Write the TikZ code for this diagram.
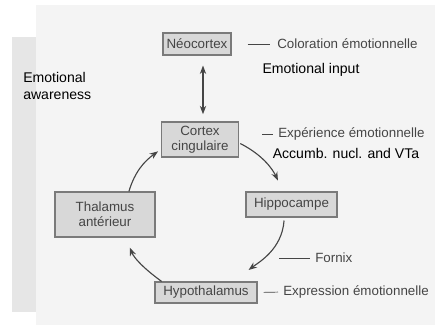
\documentclass[tikz,border=0pt]{standalone}
\usepackage{fontspec}
\setmainfont{Liberation Sans}
\usetikzlibrary{arrows.meta}

\definecolor{boxfill}{HTML}{D8D8D8}
\definecolor{boxline}{HTML}{7A7A7A}
\definecolor{scantext}{HTML}{454545}
\definecolor{page}{HTML}{F4F4F4}
\definecolor{panel}{HTML}{E6E6E6}

\tikzset{
	area/.style={draw=boxline,fill=boxfill,line width=0.8pt,inner sep=0pt,align=center,
		text=scantext,font=\fontsize{9.5}{11}\selectfont},
	french/.style={inner sep=0pt,anchor=west,text=scantext,font=\fontsize{9.5}{11}\selectfont},
	english/.style={inner sep=0pt,text=black,font=\fontsize{10}{12}\selectfont},
	tick/.style={draw=scantext,line width=0.5pt},
	link/.style={->,draw=scantext,line width=0.8pt}
}

\begin{document}
\begin{tikzpicture}[>={Stealth[length=6pt,width=4.5pt]}]
	\useasboundingbox (0,0) rectangle (10.875,8.125);
	% scanned page
	\fill[page] (0.9,0) rectangle (10.875,8);
	\fill[panel] (0.3,0.325) rectangle (0.9,7.2);

	% boxes
	\node[area,minimum width=1.7cm,minimum height=0.55cm] (neo) at (4.925,7.025) {Néocortex};
	\node[area,minimum width=1.925cm,minimum height=0.875cm] (cing) at (5.0,4.6375) {Cortex\\cingulaire};
	\node[area,minimum width=2.275cm,minimum height=0.625cm] (hippo) at (7.2875,3.0125) {Hippocampe};
	\node[area,minimum width=2.5cm,minimum height=1.125cm] (thal) at (2.625,2.7625) {Thalamus\\antérieur};
	\node[area,minimum width=2.55cm,minimum height=0.525cm] (hypo) at (5.15,0.8125) {Hypothalamus};

	% labels
	\node[french] (color) at (6.925,7.025) {Coloration émotionnelle};
	\node[french] (expe) at (6.95,4.775) {Expérience émotionnelle};
	\node[french] (fornix) at (7.875,1.675) {Fornix};
	\node[french] (expr) at (7.075,0.825) {Expression émotionnelle};
	\coordinate (fx) at (6.975,1.675);

	\node[english] (input) at (7.775,6.3875) {Emotional input};
	\node[english] (accumb) at (8.65,4.2875) {Accumb. nucl. and VTa};
	\node[english,anchor=west,align=left] (aware) at (0.575,5.975) {Emotional\\awareness};

	% ticks
	\draw[tick,shorten <=0.4cm,shorten >=0.175cm] (neo.east) -- (color.west);
	\draw[tick,shorten <=0.575cm,shorten >=0.125cm] (cing.east |- expe.west) -- (expe.west);
	\draw[tick,shorten >=0.125cm] (fx) -- (fornix.west);
	\draw[tick,shorten <=0.15cm,shorten >=0.125cm] (hypo.east) -- (expr.west);

	% links
	\draw[<->,draw=scantext,line width=0.8pt,shorten <=0.25cm,shorten >=0.18cm]
		([xshift=0.075cm]neo.south -| cing.north) -- ([xshift=0.075cm]cing.north);
	\draw[link,shorten <=1pt,shorten >=0.3cm] (cing.-5) to[out=-27,in=115] (hippo.123);
	\draw[link,shorten <=0.075cm,shorten >=0.475cm] (hippo.241) to[out=-94,in=37] (hypo.22);
	\draw[link,shorten >=0.27cm] (hypo.166) to[out=144,in=-68] (thal.-48);
	\draw[link,shorten >=0.09cm] (thal.44) to[out=73,in=216] (cing.194);
\end{tikzpicture}
\end{document}
